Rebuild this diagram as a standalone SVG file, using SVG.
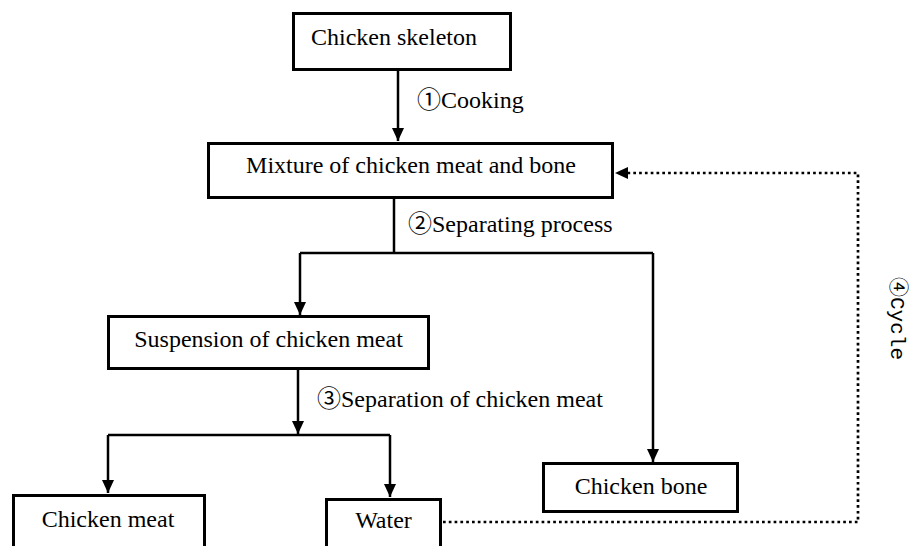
<svg xmlns="http://www.w3.org/2000/svg" width="915" height="546" viewBox="0 0 915 546">
  <style>
    .box { fill: #ffffff; stroke: #000000; stroke-width: 3; }
    .lbl { font-family: "Liberation Serif", "Noto Sans CJK SC", serif; font-size: 24px; fill: #000000; }
    .mid { text-anchor: middle; }
    .con { fill: none; stroke: #000000; stroke-width: 2.5; }
    .dot { fill: none; stroke: #000000; stroke-width: 2.7; stroke-dasharray: 2.7 3.1; }
  </style>
  <defs>
    <marker id="arrow" markerUnits="userSpaceOnUse" markerWidth="14" markerHeight="12" refX="13" refY="6" orient="auto">
      <path d="M0,0 L13,6 L0,12 z" fill="#000000"/>
    </marker>
  </defs>
  <rect width="915" height="546" fill="#ffffff"/>

  <g id="connectors">
    <path class="con" d="M398,71 V141" marker-end="url(#arrow)"/>
    <path class="con" d="M394,199 V253"/>
    <path class="con" d="M300,253 H653"/>
    <path class="con" d="M300,253 V315" marker-end="url(#arrow)"/>
    <path class="con" d="M653,253 V462" marker-end="url(#arrow)"/>
    <path class="con" d="M298,370 V434" marker-end="url(#arrow)"/>
    <path class="con" d="M108,435 H390"/>
    <path class="con" d="M108,435 V493" marker-end="url(#arrow)"/>
    <path class="con" d="M390,435 V497" marker-end="url(#arrow)"/>
    <path class="dot" d="M443,522 H858 V173 H628"/>
    <path d="M615,173 L628,167 L628,179 z" fill="#000000"/>
    <text class="lbl" x="417" y="108">①Cooking</text>
    <text class="lbl" x="408" y="232">②Separating process</text>
    <text class="lbl" x="317" y="407">③Separation of chicken meat</text>
    <text transform="translate(891,277) rotate(90)" font-size="20" fill="#000000"><tspan font-family="Noto Sans CJK SC, sans-serif">④</tspan><tspan font-family="Liberation Mono, monospace" font-size="21">Cycle</tspan></text>
  </g>

  <g id="chicken-skeleton">
    <rect class="box" x="293.5" y="13.5" width="217" height="56"/>
    <text class="lbl" x="311" y="45">Chicken skeleton</text>
  </g>
  <g id="mixture">
    <rect class="box" x="208.5" y="143.5" width="404" height="54"/>
    <text class="lbl mid" x="411" y="173">Mixture of chicken meat and bone</text>
  </g>
  <g id="suspension">
    <rect class="box" x="108.5" y="316.5" width="320" height="52"/>
    <text class="lbl mid" x="268.5" y="347">Suspension of chicken meat</text>
  </g>
  <g id="chicken-bone">
    <rect class="box" x="543.5" y="463.5" width="194" height="48"/>
    <text class="lbl mid" x="641" y="494">Chicken bone</text>
  </g>
  <g id="chicken-meat">
    <rect class="box" x="13.5" y="495.5" width="191" height="70"/>
    <text class="lbl mid" x="108" y="527">Chicken meat</text>
  </g>
  <g id="water">
    <rect class="box" x="326.5" y="499.5" width="114" height="70"/>
    <text class="lbl mid" x="383.5" y="528">Water</text>
  </g>
</svg>
